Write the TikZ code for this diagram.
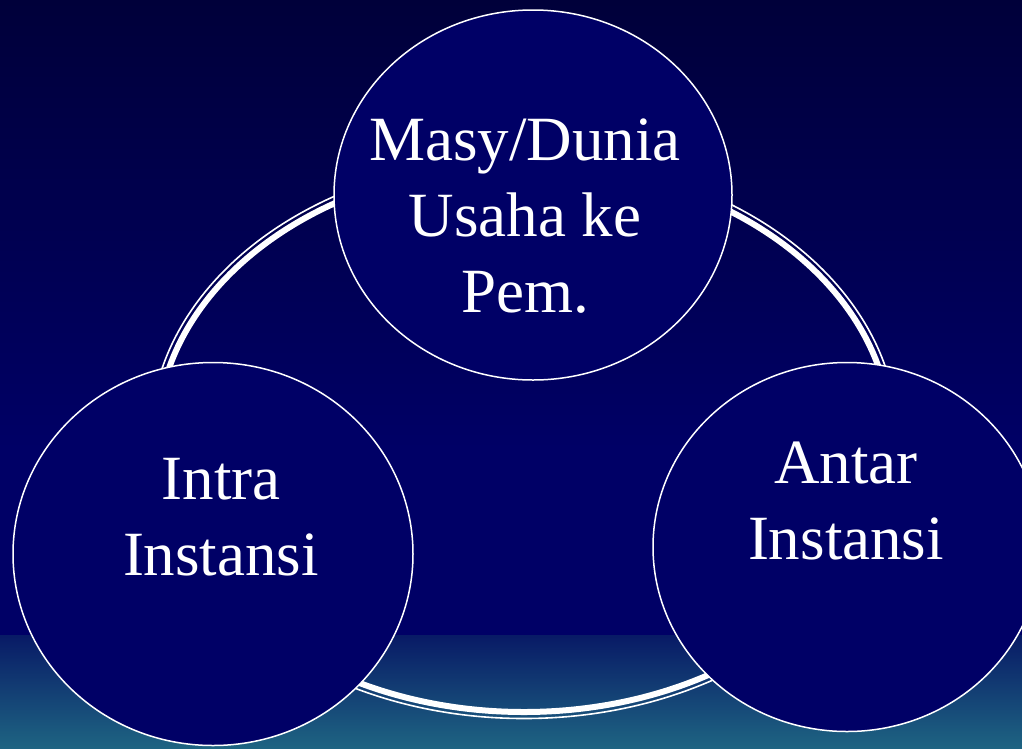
\documentclass[tikz,border=0pt]{standalone}
\usepackage{fontspec}
\setmainfont{Liberation Serif}
\usetikzlibrary{shapes.geometric}

\definecolor{skytop}{HTML}{00003A}
\definecolor{navy}{HTML}{000066}
\definecolor{bandtop}{HTML}{081A66}
\definecolor{bandmid}{HTML}{143A72}
\definecolor{bandbot}{HTML}{1E6482}

\tikzset{
  bubble/.style={ellipse, draw=white, line width=1.5pt, fill=navy, inner sep=0pt},
  caption/.style={text=white, align=center, anchor=base, inner sep=0pt,
    font=\fontsize{63}{76}\selectfont},
}

\begin{document}
\begin{tikzpicture}[x=1pt, y=-1pt]
  \useasboundingbox (0,0) rectangle (1022,748);

  % background
  \shade[top color=skytop, bottom color=navy] (0,0) rectangle (1022,450);
  \fill[navy] (0,449) rectangle (1022,636);
  \shade[top color=bandtop, middle color=bandmid, bottom color=bandbot] (0,635) rectangle (1022,748);

  % double ring behind the bubbles: thick inner band, thin outer line
  \draw[white, line width=6pt] (524,438) ellipse [x radius=367pt, y radius=274pt];
  \draw[white, line width=1.6pt] (524,438) ellipse [x radius=373.5pt, y radius=280.5pt];

  % bubbles
  \node[bubble, minimum width=398pt, minimum height=370pt] (pem)    at (533,195) {};
  \node[bubble, minimum width=400pt, minimum height=383pt] (intra)  at (213,554) {};
  \node[bubble, minimum width=388pt, minimum height=369pt] (antar)  at (847,547) {};

  % captions (anchored at the baseline of the last line)
  \node[caption] (pemtext)   at (525,312) {Masy/Dunia\\Usaha ke\\Pem.};
  \node[caption] (intratext) at (221,575) {Intra\\Instansi};
  \node[caption] (antartext) at (846,559) {Antar\\Instansi};
\end{tikzpicture}
\end{document}
